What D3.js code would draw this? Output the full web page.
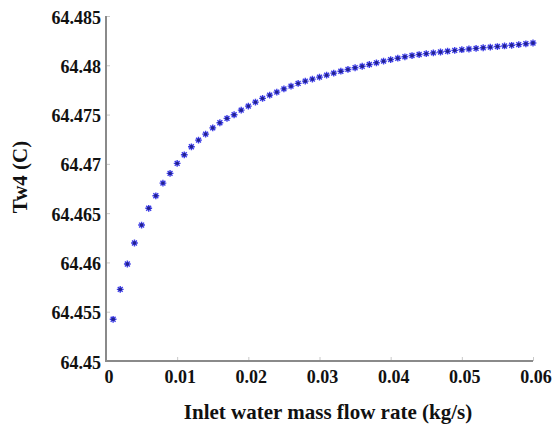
<!DOCTYPE html>
<html>
<head>
<meta charset="utf-8">
<script src="https://cdn.jsdelivr.net/npm/d3@7/dist/d3.min.js"></script>
<style>
  html, body { margin: 0; padding: 0; background: #fff; }
  svg { display: block; }
</style>
</head>
<body>
<div id="chart"></div>
<script>
// Inlet water mass flow rate (kg/s), one sample every 0.001 kg/s
const flowRate = [
  0.001, 0.002, 0.003, 0.004, 0.005, 0.006, 0.007, 0.008, 0.009, 0.010,
  0.011, 0.012, 0.013, 0.014, 0.015, 0.016, 0.017, 0.018, 0.019, 0.020,
  0.021, 0.022, 0.023, 0.024, 0.025, 0.026, 0.027, 0.028, 0.029, 0.030,
  0.031, 0.032, 0.033, 0.034, 0.035, 0.036, 0.037, 0.038, 0.039, 0.040,
  0.041, 0.042, 0.043, 0.044, 0.045, 0.046, 0.047, 0.048, 0.049, 0.050,
  0.051, 0.052, 0.053, 0.054, 0.055, 0.056, 0.057, 0.058, 0.059, 0.060
];

// Outlet water temperature Tw4 (C)
const tw4 = [
  64.45423, 64.45727, 64.45984, 64.46197, 64.46379, 64.46549, 64.46676, 64.46805, 64.46903, 64.47005,
  64.47092, 64.47173, 64.47241, 64.47302, 64.47365, 64.47417, 64.47461, 64.47498, 64.47545, 64.47586,
  64.47626, 64.47664, 64.47697, 64.47728, 64.47761, 64.47789, 64.47816, 64.47839, 64.47860, 64.47880,
  64.47900, 64.47920, 64.47940, 64.47958, 64.47975, 64.47990, 64.48008, 64.48025, 64.48042, 64.48058,
  64.48072, 64.48086, 64.48099, 64.48109, 64.48118, 64.48126, 64.48135, 64.48143, 64.48151, 64.48158,
  64.48165, 64.48172, 64.48178, 64.48184, 64.48190, 64.48196, 64.48203, 64.48210, 64.48218, 64.48226
];

const xTicks = [0, 0.01, 0.02, 0.03, 0.04, 0.05, 0.06];
const xTickLabels = ["0", "0.01", "0.02", "0.03", "0.04", "0.05", "0.06"];
const yTicks = [64.45, 64.455, 64.46, 64.465, 64.47, 64.475, 64.48, 64.485];
const yTickLabels = ["64.45", "64.455", "64.46", "64.465", "64.47", "64.475", "64.48", "64.485"];

const xLabel = "Inlet water mass flow rate (kg/s)";
const yLabel = "Tw4 (C)";

const FONT = "'Liberation Serif', 'DejaVu Serif', serif";

const W = 552, H = 427;
const plot = { left: 106, right: 533, top: 16, bottom: 361 };

const svg = d3.select("#chart").append("svg")
  .attr("width", W).attr("height", H)
  .attr("font-family", FONT)
  .attr("font-weight", "bold");

const x = d3.scaleLinear().domain([0, 0.06]).range([plot.left, plot.right]);
const y = d3.scaleLinear().domain([64.45, 64.485]).range([plot.bottom, plot.top]);

// Faint inward tick marks
const xAxis = d3.axisBottom(x).tickValues(xTicks).tickSize(-4).tickFormat("");
const yAxis = d3.axisLeft(y).tickValues(yTicks).tickSize(-4).tickFormat("");

const gx = svg.append("g").attr("transform", `translate(0,${plot.bottom})`).call(xAxis);
const gy = svg.append("g").attr("transform", `translate(${plot.left},0)`).call(yAxis);
[gx, gy].forEach(g => {
  g.select(".domain").remove();
  g.selectAll(".tick line").attr("stroke", "#c8c8c8").attr("stroke-width", 1);
});

// Axis lines (left and bottom only)
svg.append("line")
  .attr("x1", plot.left).attr("x2", plot.left)
  .attr("y1", y(64.485)).attr("y2", y(64.45) + 1)
  .attr("stroke", "#8a8a8a").attr("stroke-width", 2);
svg.append("line")
  .attr("x1", plot.left - 1).attr("x2", x(0.06))
  .attr("y1", plot.bottom).attr("y2", plot.bottom)
  .attr("stroke", "#8a8a8a").attr("stroke-width", 2);

// Tick labels
svg.append("g").selectAll("text")
  .data(xTicks)
  .join("text")
  .attr("x", d => x(d) + 3)
  .attr("y", 383)
  .attr("text-anchor", "middle")
  .attr("font-family", FONT)
  .attr("font-weight", "bold")
  .attr("font-size", 18)
  .attr("fill", "#111")
  .text((d, i) => xTickLabels[i]);

svg.append("g").selectAll("text")
  .data(yTicks)
  .join("text")
  .attr("x", 101)
  .attr("y", d => y(d) + 7.5)
  .attr("text-anchor", "end")
  .attr("font-family", FONT)
  .attr("font-weight", "bold")
  .attr("font-size", 18)
  .attr("fill", "#111")
  .text((d, i) => yTickLabels[i]);

// Axis titles
svg.append("text")
  .attr("x", 328).attr("y", 419)
  .attr("text-anchor", "middle")
  .attr("font-family", FONT)
  .attr("font-weight", "bold")
  .attr("font-size", 21)
  .attr("fill", "#111")
  .text(xLabel);

svg.append("text")
  .attr("transform", "translate(27,177) rotate(-90)")
  .attr("text-anchor", "middle")
  .attr("font-family", FONT)
  .attr("font-weight", "bold")
  .attr("font-size", 21)
  .attr("fill", "#111")
  .text(yLabel);

// Asterisk markers
const defs = svg.append("defs");
defs.append("filter").attr("id", "soft")
  .append("feGaussianBlur").attr("stdDeviation", 0.45);

const r = 3.4, rd = r * 0.72;
const star = `M${-r},0L${r},0M0,${-r}L0,${r}M${-rd},${-rd}L${rd},${rd}M${-rd},${rd}L${rd},${-rd}`;

const pts = svg.append("g").attr("filter", "url(#soft)");
const mk = pts.selectAll("g")
  .data(flowRate.map((f, i) => [f, tw4[i]]))
  .join("g")
  .attr("transform", d => `translate(${x(d[0])},${y(d[1])})`);
mk.append("path")
  .attr("d", star)
  .attr("stroke", "#3a3ae6")
  .attr("stroke-width", 1.4)
  .attr("fill", "none");
mk.append("circle")
  .attr("r", 1.7)
  .attr("fill", "#22228c");
</script>
</body>
</html>
